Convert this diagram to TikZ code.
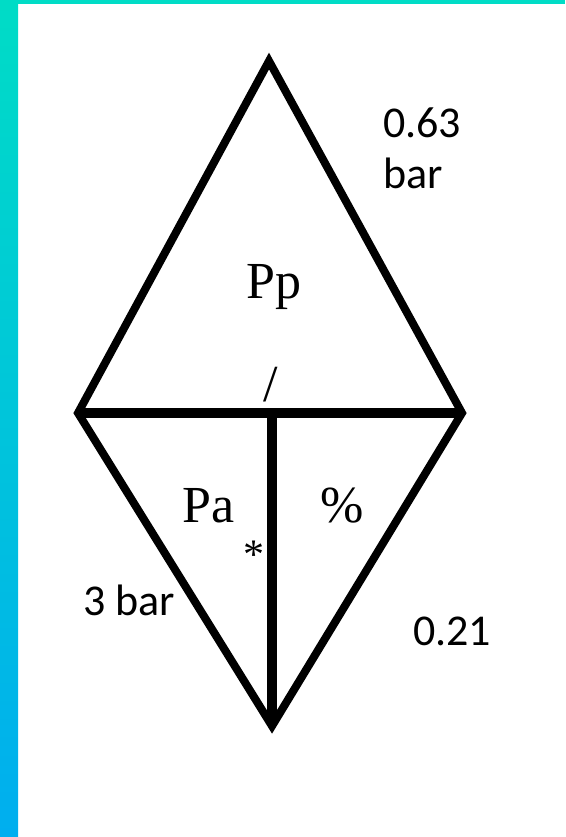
\documentclass[tikz,border=0pt]{standalone}
\usepackage{fontspec}
\newfontfamily\calibrifont{Carlito}
\newfontfamily\timesfont{Liberation Serif}
\usetikzlibrary{positioning}
\definecolor{bandteal}{RGB}{0,220,198}
\definecolor{bandblue}{RGB}{0,174,239}
\tikzstyle{edge} = [
    line width=8pt,
    draw=black,
    line join=miter
]
\tikzstyle{bar} = [
    line width=10pt,
    draw=black
]
\tikzstyle{value} = [
    inner sep=0pt,
    align=left,
    font=\calibrifont\fontsize{44}{51}\selectfont
]
\tikzstyle{symbol} = [
    inner sep=0pt,
    font=\timesfont\fontsize{52}{60}\selectfont
]

\begin{document}
\begin{tikzpicture}[x=1pt, y=-1pt]
        \useasboundingbox (0,0) rectangle (565,837);

        % Side and top bands
        \shade[top color=bandteal, bottom color=bandblue] (0,0) rectangle (18,837);
        \fill[bandteal] (0,0) rectangle (565,4);

        % Corners of the diamond
        \coordinate (apex) at (269,61);
        \coordinate (west) at (78,413);
        \coordinate (east) at (462,413);
        \coordinate (foot) at (272,726);
        \coordinate (mid) at (272,413);

        % Outline, cross bar and stem
        \draw[edge] (apex) -- (east) -- (foot) -- (west) -- cycle;
        \draw[bar] (west) -- (east);
        \draw[bar] (mid) -- (foot);

        % Symbols inside
        \node[symbol, anchor=base west] (pp) at (246,298) {Pp};
        \node[symbol, anchor=base west] (slash) at (263,401) {/};
        \node[symbol, anchor=base west] (pa) at (182,522) {Pa};
        \node[symbol, anchor=base west] (pct) at (320,522) {\%};
        \node[symbol, anchor=base west, font=\timesfont\fontsize{42}{50}\selectfont] (star) at (243,568) {*};

        % Values outside
        \node[value, anchor=base west] (ppval) at (383,188) {0.63\\bar};
        \node[value, anchor=base west] (paval) at (83,615) {3 bar};
        \node[value, anchor=base west] (pctval) at (413,645) {0.21};
    \end{tikzpicture}
\end{document}
